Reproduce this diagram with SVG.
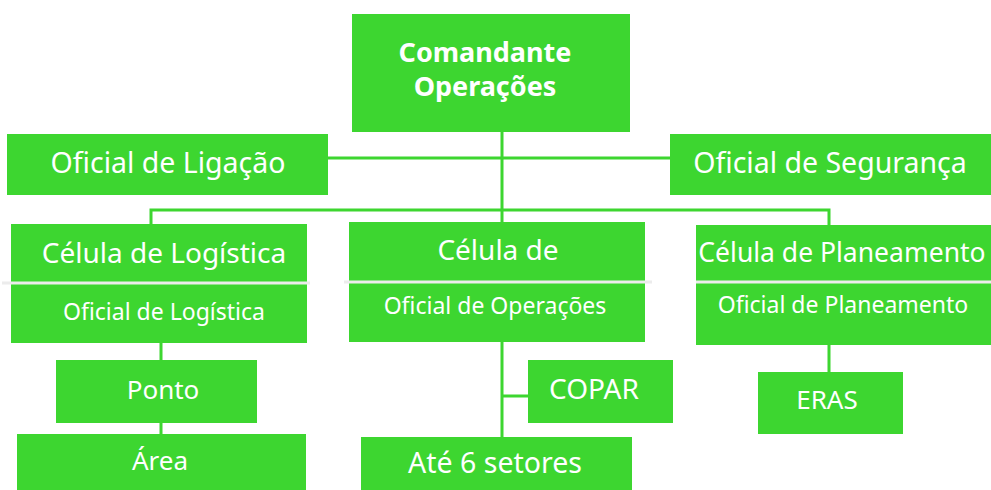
<svg xmlns="http://www.w3.org/2000/svg" width="991" height="490" viewBox="0 0 991 490">
<style>
.box{fill:#3dd630}
.t{fill:#fff;font-family:"Noto Sans","DejaVu Sans",sans-serif;text-anchor:middle}
.big{font-size:26px}
.xl{font-size:28.5px}
.cel{font-size:28px}
.mid{font-size:23px}
.c{stroke:#3dd630;stroke-width:3;fill:none}
.div{stroke:#ececec;stroke-width:3}
</style>
<rect width="991" height="490" fill="#fff"/>
<g id="connectors">
<path class="c" d="M502 132V210M328 158H670M151 224V210H829V225M502 210V222"/>
<path class="c" d="M161 343V360M161 423V434M502 342V437M502 396H528M829 345V372"/>
</g>
<g id="comandante">
<rect class="box" x="352" y="14" width="278" height="118"/>
<text class="t" style="font-size:27px" x="485" y="62" font-weight="bold">Comandante</text>
<text class="t" style="font-size:27px" x="485" y="96" font-weight="bold">Operações</text>
</g>
<g id="ligacao">
<rect class="box" x="7" y="134" width="321" height="61"/>
<text class="t xl" x="168" y="173">Oficial de Ligação</text>
</g>
<g id="seguranca">
<rect class="box" x="670" y="134" width="321" height="61"/>
<text class="t xl" x="830" y="173">Oficial de Segurança</text>
</g>
<g id="logistica">
<rect class="box" x="11" y="224" width="296" height="119"/>
<line class="div" x1="2" y1="283" x2="310" y2="283"/>
<text class="t cel" x="164" y="263">Célula de Logística</text>
<text class="t mid" x="164" y="320">Oficial de Logística</text>
</g>
<g id="operacoes">
<rect class="box" x="349" y="222" width="296" height="120"/>
<line class="div" x1="344" y1="282" x2="652" y2="282"/>
<text class="t cel" x="498" y="260">Célula de</text>
<text class="t mid" x="495" y="314">Oficial de Operações</text>
</g>
<g id="planeamento">
<rect class="box" x="696" y="225" width="295" height="120"/>
<line class="div" x1="696" y1="282" x2="991" y2="282"/>
<text class="t" style="font-size:26.5px" x="842" y="262">Célula de Planeamento</text>
<text class="t mid" x="843" y="313">Oficial de Planeamento</text>
</g>
<g id="ponto">
<rect class="box" x="56" y="360" width="201" height="63"/>
<text class="t big" x="163" y="399">Ponto</text>
</g>
<g id="area">
<rect class="box" x="17" y="434" width="289" height="56"/>
<text class="t big" x="160" y="470">Área</text>
</g>
<g id="copar">
<rect class="box" x="528" y="360" width="145" height="63"/>
<text class="t cel" x="594" y="399">COPAR</text>
</g>
<g id="setores">
<rect class="box" x="361" y="437" width="271" height="53"/>
<text class="t xl" x="495" y="473">Até 6 setores</text>
</g>
<g id="eras">
<rect class="box" x="758" y="372" width="145" height="62"/>
<text class="t big" x="827" y="409">ERAS</text>
</g>
</svg>
